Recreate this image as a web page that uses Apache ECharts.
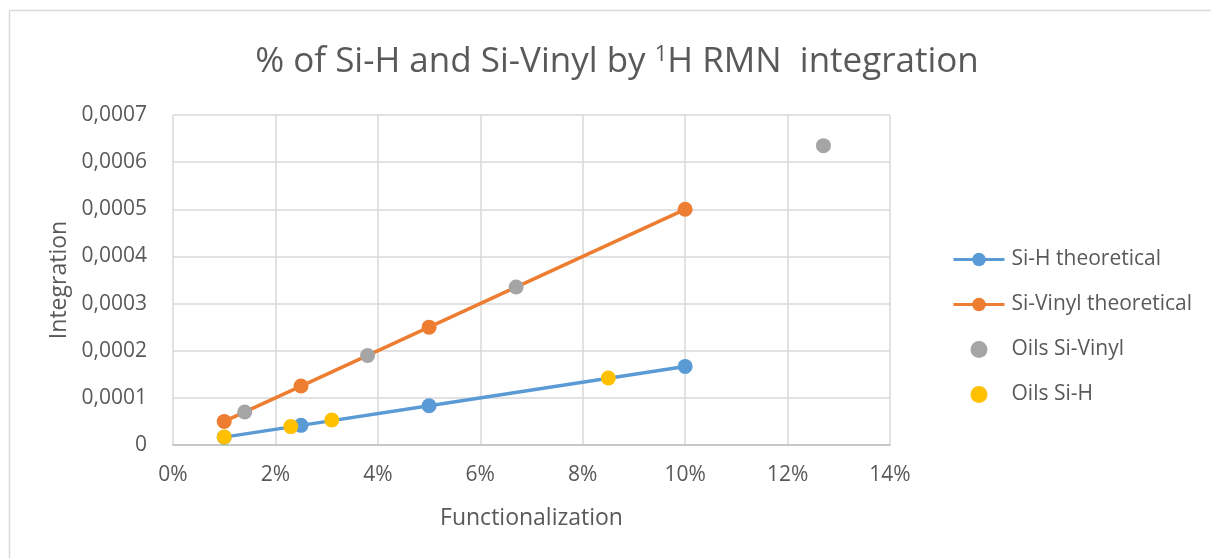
<!DOCTYPE html>
<html>
<head>
<meta charset="utf-8">
<script src="https://cdn.jsdelivr.net/npm/echarts@6/dist/echarts.min.js"></script>
<style>
  html, body { margin: 0; padding: 0; background: #fff; }
  #chart { width: 1211px; height: 558px; }
</style>
</head>
<body>
<div id="chart"></div>
<script>
// Functionalization (%) vs. 1H RMN integration
const siHTheoretical = [[1, 0.00001667], [2.5, 0.00004167], [5, 0.00008333], [10, 0.0001667]];
const siVinylTheoretical = [[1, 0.00005], [2.5, 0.000125], [5, 0.00025], [10, 0.0005]];
const oilsSiVinyl = [[1.4, 0.00007], [3.8, 0.00019], [6.7, 0.000335], [12.7, 0.000635]];
const oilsSiH = [[1, 0.000017], [2.3, 0.000039], [3.1, 0.000053], [8.5, 0.000142]];
const seriesNames = ['Si-H theoretical', 'Si-Vinyl theoretical', 'Oils Si-Vinyl', 'Oils Si-H'];
const colors = ['#5B9BD5', '#ED7D31', '#A5A5A5', '#FFC000'];

const FONT = '"Open Sans", "Noto Sans", sans-serif';
const TEXT = '#595959';
const GRIDC = '#d9d9d9';

const chart = echarts.init(document.getElementById('chart'), null, { renderer: 'canvas' });

chart.setOption({
  animation: false,
  backgroundColor: '#fff',
  color: colors,
  textStyle: { fontFamily: FONT },
  title: {
    text: '% of Si-H and Si-Vinyl by {sup|1}H RMN  integration',
    left: 612,
    top: 39,
    textAlign: 'center',
    textStyle: {
      fontFamily: FONT,
      fontSize: 35,
      fontWeight: 'normal',
      color: TEXT,
      rich: {
        sup: { fontFamily: FONT, fontSize: 22, color: TEXT, verticalAlign: 'top', padding: [0, 0, 14, 0] }
      }
    }
  },
  legend: {
    orient: 'vertical',
    left: 947,
    top: 244,
    itemWidth: 51,
    itemHeight: 17,
    itemGap: 24,
    data: seriesNames,
    lineStyle: { width: 3 },
    textStyle: { fontFamily: FONT, fontSize: 21, color: TEXT, padding: [0, 0, 0, 2] }
  },
  grid: { left: 173, right: 321, top: 115, bottom: 113 },
  xAxis: {
    type: 'value',
    min: 0,
    max: 14,
    interval: 2,
    name: 'Functionalization',
    nameLocation: 'middle',
    nameGap: 62,
    nameTextStyle: { fontFamily: FONT, fontSize: 23, color: TEXT },
    axisLine: { lineStyle: { color: '#bfbfbf', width: 1.5 } },
    axisTick: { show: false },
    axisLabel: { formatter: '{value}%', fontFamily: FONT, fontSize: 21, color: TEXT, margin: 20 },
    splitLine: { show: true, lineStyle: { color: GRIDC, width: 1.5 } }
  },
  yAxis: {
    type: 'value',
    min: 0,
    max: 0.0007,
    interval: 0.0001,
    name: 'Integration',
    nameLocation: 'middle',
    nameGap: 99,
    nameTextStyle: { fontFamily: FONT, fontSize: 23, color: TEXT },
    axisLine: { show: false },
    axisTick: { show: false },
    axisLabel: {
      fontFamily: FONT, fontSize: 21, color: TEXT, margin: 26,
      formatter: v => (v === 0 ? '0' : v.toFixed(4).replace('.', ','))
    },
    splitLine: { show: true, lineStyle: { color: GRIDC, width: 1.5 } }
  },
  graphic: [
    { type: 'line', shape: { x1: 9.5, y1: 10.5, x2: 1211, y2: 10.5 }, style: { stroke: GRIDC, lineWidth: 1.5 } },
    { type: 'line', shape: { x1: 9.5, y1: 10.5, x2: 9.5, y2: 558 }, style: { stroke: GRIDC, lineWidth: 1.5 } }
  ],
  series: [
    {
      name: seriesNames[0], type: 'line', data: siHTheoretical,
      symbol: 'circle', symbolSize: 15, z: 2,
      lineStyle: { width: 3.5, color: colors[0] },
      itemStyle: { color: colors[0] }
    },
    {
      name: seriesNames[1], type: 'line', data: siVinylTheoretical,
      symbol: 'circle', symbolSize: 15, z: 2,
      lineStyle: { width: 3.5, color: colors[1] },
      itemStyle: { color: colors[1] }
    },
    {
      name: seriesNames[2], type: 'scatter', data: oilsSiVinyl,
      symbol: 'circle', symbolSize: 15, z: 4,
      itemStyle: { color: colors[2], opacity: 1 }
    },
    {
      name: seriesNames[3], type: 'scatter', data: oilsSiH,
      symbol: 'circle', symbolSize: 15, z: 5,
      itemStyle: { color: colors[3], opacity: 1 }
    }
  ]
});
</script>
</body>
</html>
